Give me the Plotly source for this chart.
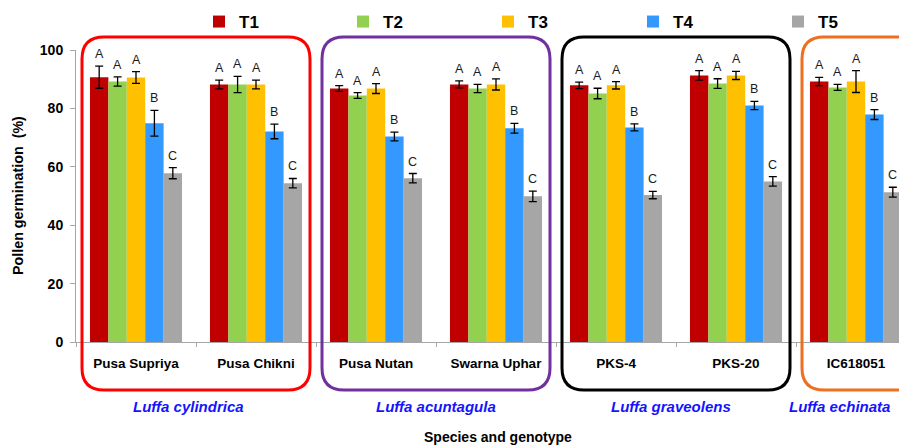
import plotly.graph_objects as go

# ---- data ----
genotypes = ["Pusa Supriya", "Pusa Chikni", "Pusa Nutan", "Swarna Uphar",
             "PKS-4", "PKS-20", "IC618051"]
treatments = ["T1", "T2", "T3", "T4", "T5"]
colors = ["#C00000", "#92D050", "#FFC000", "#3399FF", "#A6A6A6"]

T1 = [90.7, 88.2, 86.8, 88.2, 87.9, 91.3, 89.2]
T2 = [89.2, 88.2, 84.4, 86.8, 85.1, 88.5, 87.2]
T3 = [90.6, 88.2, 86.8, 88.2, 87.9, 91.3, 89.2]
T4 = [74.9, 72.1, 70.4, 73.2, 73.5, 81.0, 77.9]
T5 = [57.8, 54.4, 56.1, 49.9, 50.3, 55.0, 51.3]

T1_err = [3.8, 1.5, 1.0, 1.2, 1.1, 1.65, 1.4]
T2_err = [1.6, 2.8, 1.0, 1.4, 1.8, 1.65, 1.0]
T3_err = [2.0, 1.5, 1.7, 1.9, 1.25, 1.4, 3.75]
T4_err = [4.4, 2.5, 1.5, 1.7, 1.2, 1.4, 1.7]
T5_err = [1.9, 1.6, 1.6, 1.8, 1.25, 1.65, 1.7]

letters = ["A", "A", "A", "B", "C"]  # significance groups per treatment

species = ["Luffa cylindrica", "Luffa acuntagula", "Luffa graveolens", "Luffa echinata"]
species_members = [(0, 1), (2, 3), (4, 5), (6, 7)]
species_label_x = [0.44, 2.5, 4.46, 5.86]
box_colors = ["#FF0000", "#7030A0", "#000000", "#ED7020"]

yticks = [0, 20, 40, 60, 80, 100]

values = [T1, T2, T3, T4, T5]
errors = [T1_err, T2_err, T3_err, T4_err, T5_err]

# ---- layout geometry ----
W, H = 899, 445
ML, MR, MT, MB = 76, 0, 50, 103
PW, PH = W - ML - MR, H - MT - MB
CAT_PX = 120                      # pixel width of one category slot
x_range = [-0.5, -0.5 + PW / CAT_PX]
bargap = 0.233
FONT = "Liberation Sans, Arial, sans-serif"
legend_left_px = [199, 343, 488, 633, 778]   # one legend box per treatment


def xpaper(xd):
    return (xd - x_range[0]) / (x_range[1] - x_range[0])


def ypx_paper(py):
    return (H - MB - py) / PH


fig = go.Figure()
legend_ids = ["legend"] + [f"legend{k}" for k in range(2, len(treatments) + 1)]
for name, col, vals, errs, lid in zip(treatments, colors, values, errors, legend_ids):
    fig.add_trace(go.Bar(
        name=name, x=genotypes, y=vals, marker=dict(color=col, line=dict(width=0)),
        error_y=dict(type="data", array=errs, visible=True, color="#000000",
                     thickness=1.3, width=4),
        legend=lid,
    ))

# letters above each error bar
n = len(treatments)
slot = (1 - bargap) / n
annotations = []
for j, (vals, errs, let) in enumerate(zip(values, errors, letters)):
    off = -(1 - bargap) / 2 + (j + 0.5) * slot
    for i, (v, e) in enumerate(zip(vals, errs)):
        annotations.append(dict(
            x=i + off, y=v + e, xref="x", yref="y", text=let, showarrow=False,
            xanchor="center", yanchor="bottom", yshift=3,
            font=dict(family=FONT, size=12.5, color="#1a1a1a"),
        ))

# species names
for name, xs in zip(species, species_label_x):
    annotations.append(dict(
        x=xs, y=ypx_paper(406), xref="x", yref="paper", text=f"<b><i>{name}</i></b>",
        showarrow=False, yanchor="middle", xanchor="center",
        font=dict(family=FONT, size=15, color="#1414FF"),
    ))

# axis titles
annotations.append(dict(
    x=(498 - ML) / PW, y=ypx_paper(437), xref="paper", yref="paper",
    text="<b>Species and genotype</b>", showarrow=False,
    xanchor="center", yanchor="middle",
    font=dict(family=FONT, size=14, color="#000000"),
))
annotations.append(dict(
    x=(18 - ML) / PW, y=ypx_paper(196), xref="paper", yref="paper",
    text="<b>Pollen germination  (%)</b>", showarrow=False, textangle=-90,
    xanchor="center", yanchor="middle",
    font=dict(family=FONT, size=14.3, color="#000000"),
))

# rounded frames around each species
shapes = []
rpx = 22
rx, ry = rpx / PW, rpx / PH
y1, y0 = ypx_paper(37), ypx_paper(390)
for (a, b), col in zip(species_members, box_colors):
    x0, x1 = xpaper(a - 0.45), xpaper(b + 0.45)
    path = (f"M{x0+rx},{y1} L{x1-rx},{y1} Q{x1},{y1} {x1},{y1-ry} "
            f"L{x1},{y0+ry} Q{x1},{y0} {x1-rx},{y0} L{x0+rx},{y0} "
            f"Q{x0},{y0} {x0},{y0+ry} L{x0},{y1-ry} Q{x0},{y1} {x0+rx},{y1} Z")
    shapes.append(dict(type="path", path=path, xref="paper", yref="paper",
                       line=dict(color=col, width=3), layer="above"))

legend_style = dict(
    orientation="h", xanchor="left", yanchor="middle", y=ypx_paper(22),
    itemwidth=30, bgcolor="rgba(0,0,0,0)", borderwidth=0,
    font=dict(family=FONT, size=17, color="#000000", weight="bold"),
)
legends = {lid: dict(legend_style, x=(px - ML) / PW)
           for lid, px in zip(legend_ids, legend_left_px)}

fig.update_layout(
    width=W, height=H,
    margin=dict(l=ML, r=MR, t=MT, b=MB, pad=0),
    paper_bgcolor="white", plot_bgcolor="white",
    barmode="group", bargap=bargap, bargroupgap=0,
    font=dict(family=FONT, color="#000000"),
    showlegend=True,
    annotations=annotations,
    shapes=shapes,
    **legends,
)
fig.update_xaxes(
    type="category", range=x_range, showline=True, linecolor="#A6A6A6", linewidth=1,
    ticks="outside", tickson="boundaries", ticklen=4, tickcolor="#A6A6A6",
    showgrid=False, zeroline=False, ticklabelstandoff=9,
    tickfont=dict(family=FONT, size=13.5, color="#000000", weight="bold"),
)
fig.update_yaxes(
    range=[0, 100], tickvals=yticks, showline=True, linecolor="#A6A6A6", linewidth=1,
    ticks="outside", ticklen=5, tickcolor="#A6A6A6", showgrid=False, zeroline=False,
    tickfont=dict(family=FONT, size=14, color="#000000", weight="bold"),
    ticklabelstandoff=4,
)

fig.write_html("out.html")
